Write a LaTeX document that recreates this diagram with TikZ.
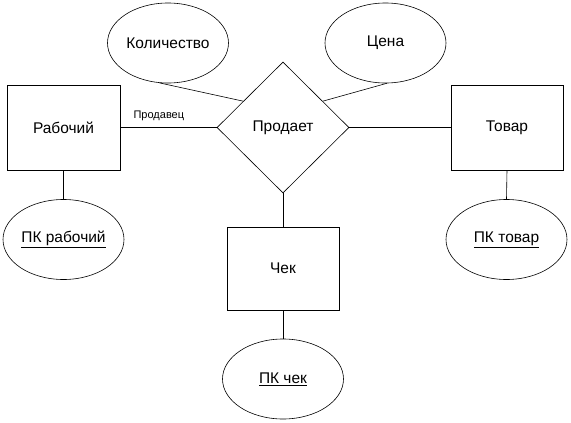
\documentclass[tikz,border=0pt]{standalone}
\usepackage{fontspec}
\setmainfont{Liberation Sans}
\usetikzlibrary{shapes.geometric,calc}

\begin{document}
\begin{tikzpicture}[x=1pt,y=-1pt]
\tikzstyle{ent}= [rectangle, draw, line width=0.6pt, font=\fontsize{15.5}{18}\selectfont]
\tikzstyle{atr}= [ellipse, draw, line width=0.6pt, inner sep=0pt, minimum width=121pt, minimum height=80pt, font=\fontsize{15.5}{18}\selectfont]
\tikzstyle{rel}= [diamond, draw, line width=0.6pt, inner sep=0pt, minimum width=132pt, minimum height=131pt, font=\fontsize{15.5}{18}\selectfont]
\tikzstyle{con}= [line width=0.6pt]
\useasboundingbox (0,0) rectangle (571,423);
%entities
\node[ent, minimum width=113pt, minimum height=85pt] (rab) at (63.5,127.5) {Рабочий};
\node[ent, minimum width=112pt, minimum height=85pt] (tov) at (507,127.5) {Товар};
\node[ent, minimum width=112pt, minimum height=83pt] (chek) at (283,268.5) {Чек};
%relation
\node[rel] (prod) at (283,127.5) {Продает};
%attributes
\node[atr] (kol) at (168,43) {Количество};
\node[atr] (cena) at (385.5,43) {Цена};
\node[atr] (pkr) at (63.5,239.5) {\underline{ПК рабочий}};
\node[atr] (pkt) at (506.5,239.5) {\underline{ПК товар}};
\node[atr] (pkc) at (283,379) {\underline{ПК чек}};
%links
\draw[con] (rab.east) -- node[pos=0.4, above=3pt, font=\fontsize{11}{13}\selectfont] (rol) {Продавец} (prod.west);
\draw[con] (prod.east) -- (tov.west);
\draw[con] (prod.south) -- (chek.north);
\draw[con] (kol.258) -- ($(prod.west)!0.4!(prod.north)$);
\draw[con] (cena.272) -- ($(prod.east)!0.4!(prod.north)$);
\draw[con] (rab.south) -- (pkr.north);
\draw[con] (tov.south) -- (pkt.north);
\draw[con] (chek.south) -- (pkc.north);
\end{tikzpicture}
\end{document}
